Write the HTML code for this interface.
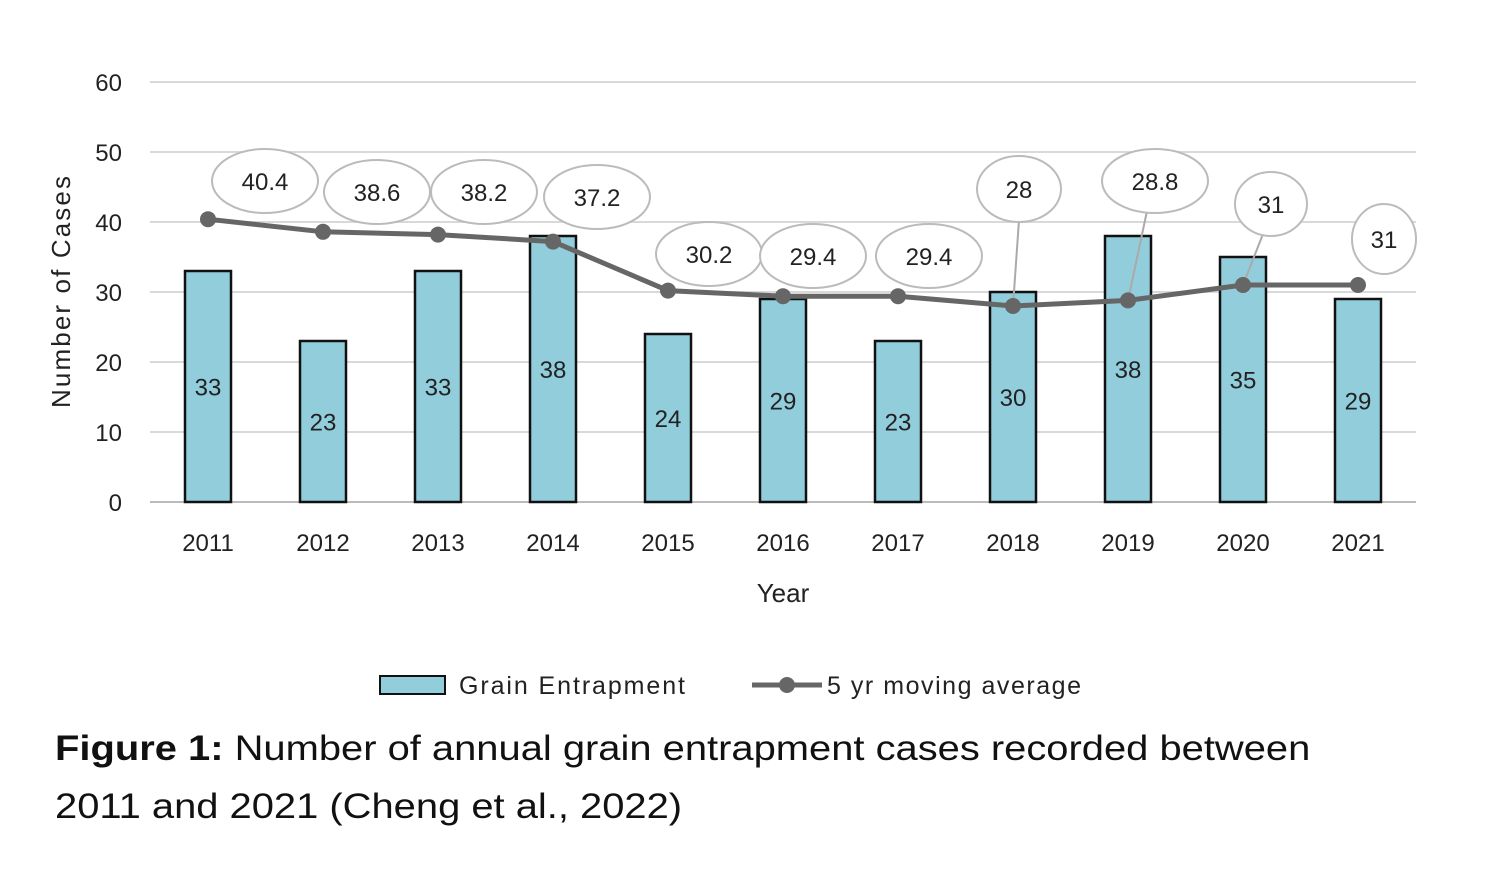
<!DOCTYPE html>
<html><head><meta charset="utf-8"><style>
body{margin:0;background:#fff;width:1500px;height:888px;overflow:hidden;font-family:"Liberation Sans",sans-serif;}
svg text{font-family:"Liberation Sans",sans-serif;fill:#222;}
.cap{position:absolute;left:55px;font-size:35px;color:#111;line-height:58px;transform-origin:0 0;transform:scaleX(1.14);white-space:nowrap;}
</style></head><body>
<svg id="chart" width="1500" height="888" style="position:absolute;left:0;top:0"></svg>
<div class="cap" style="top:720px;"><b>Figure 1:</b> Number of annual grain entrapment cases recorded between<br>2011 and 2021 (Cheng et al., 2022)</div>
<script>
const years=["2011","2012","2013","2014","2015","2016","2017","2018","2019","2020","2021"];
const cases=[33,23,33,38,24,29,23,30,38,35,29];
const movingAvg=[40.4,38.6,38.2,37.2,30.2,29.4,29.4,28,28.8,31,31];
const yTicks=[0,10,20,30,40,50,60];
const labelPos=[[265,181,53,32],[377,192,53,32],[484,192,53,32],[597,197,53,32],[709,254,53,32],[813,256,53,32],[929,256,53,32],[1019,189,42,33],[1155,181,53,32],[1271,204,36,32],[1384,239,32,35]];
const svg=document.getElementById('chart');
const NS='http://www.w3.org/2000/svg';
function el(t,a,txt){const e=document.createElementNS(NS,t);for(const k in a)e.setAttribute(k,a[k]);if(txt!=null)e.textContent=txt;svg.appendChild(e);return e;}
const y=v=>502-v*7;
const x=i=>208+i*115;
yTicks.forEach(t=>{
 const g=el('line',{x1:150,x2:1416,y1:y(t),y2:y(t),stroke:t===0?'#bbb':'#d9d9d9','stroke-width':2});
 
 
 const l=el('text',{x:122,y:y(t)+9,'text-anchor':'end','font-size':24},t);
 
 
});
years.forEach((yr,i)=>{
 const b=el('rect',{x:x(i)-23,y:y(cases[i]),width:46,height:cases[i]*7,fill:'#92cddc',stroke:'#111','stroke-width':2.5});
 
 
 const v=el('text',{x:x(i),y:y(cases[i]/2)+9,'text-anchor':'middle','font-size':24},cases[i]);
 
 
 const xl=el('text',{x:x(i),y:551,'text-anchor':'middle','font-size':24},yr);
 
 
});
const ln=el('polyline',{points:movingAvg.map((v,i)=>x(i)+','+y(v)).join(' '),fill:'none',stroke:'#666','stroke-width':5});


movingAvg.forEach((v,i)=>{
 const p=labelPos[i];
 if(i>=7&&i<=9){const ll=el('line',{x1:p[0]+(i===7?0:-8),y1:p[1]+p[3]-2,x2:x(i),y2:y(v),stroke:'#aaa','stroke-width':2});
 
 }
 const m=el('circle',{cx:x(i),cy:y(v),r:8,fill:'#666'});
 
 
 const e=el('ellipse',{cx:p[0],cy:p[1],rx:p[2],ry:p[3],fill:'#fff',stroke:'#bbb','stroke-width':2});
 
 
 const t=el('text',{x:p[0],y:p[1]+9,'text-anchor':'middle','font-size':24},v);
 
 
});
const yt=el('text',{x:0,y:0,'text-anchor':'middle','font-size':26,textLength:232,transform:'translate(70,292) rotate(-90)'},'Number of Cases');


const xt=el('text',{x:783,y:602,'text-anchor':'middle','font-size':26},'Year');


const lr=el('rect',{x:380,y:676,width:65,height:18,fill:'#92cddc',stroke:'#111','stroke-width':2});


const lt=el('text',{x:459,y:694,'font-size':25,textLength:226},'Grain Entrapment');


const ll2=el('line',{x1:752,x2:822,y1:685,y2:685,stroke:'#666','stroke-width':5});


const lc=el('circle',{cx:787,cy:685,r:8,fill:'#666'});


const lt2=el('text',{x:827,y:694,'font-size':25,textLength:254},'5 yr moving average');


</script>
</body></html>
